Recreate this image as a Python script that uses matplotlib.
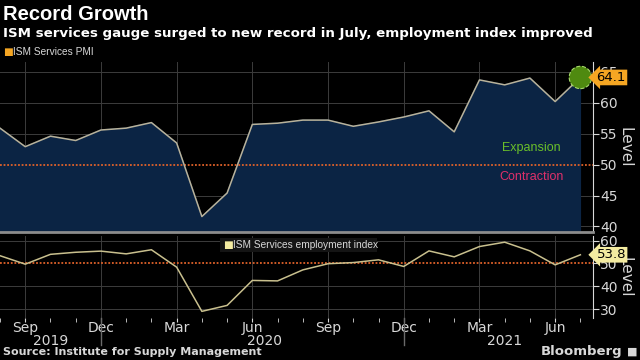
import numpy as np
import matplotlib
matplotlib.use("Agg")
import matplotlib.pyplot as plt
from matplotlib.patches import Rectangle

# Monthly, Aug 2019 .. Jul 2021
months = ["Aug", "Sep", "Oct", "Nov", "Dec", "Jan", "Feb", "Mar", "Apr", "May", "Jun", "Jul",
          "Aug", "Sep", "Oct", "Nov", "Dec", "Jan", "Feb", "Mar", "Apr", "May", "Jun", "Jul"]
years = [2019] * 5 + [2020] * 12 + [2021] * 7
pmi = [55.9, 52.9, 54.6, 53.9, 55.6, 55.9, 56.8, 53.5, 41.6, 45.4, 56.5, 56.7,
       57.2, 57.2, 56.2, 56.9, 57.7, 58.7, 55.3, 63.7, 62.9, 64.0, 60.2, 64.1]
employment = [53.4, 49.7, 54.0, 54.9, 55.4, 54.2, 56.0, 48.4, 29.1, 31.7, 42.6, 42.4,
              47.2, 49.9, 50.4, 51.6, 48.7, 55.5, 52.9, 57.4, 59.3, 55.5, 49.4, 53.8]
pmi_ticks = [40, 45, 50, 55, 60, 65]
emp_ticks = [30, 40, 50, 60]
major_months = ["Sep", "Dec", "Mar", "Jun"]

BG = "black"
GRID = "#3c3c3c"
TXT = "#d8d8d8"
NAVY = "#0b2444"
ORANGE = "#e0622a"
PMI_C = "#f5a623"
EMP_C = "#f3eba0"
NARROW = ["Liberation Sans", "DejaVu Sans"]

x = np.arange(len(pmi))
W, H = 640, 360

fig = plt.figure(figsize=(6.4, 3.6), dpi=100, facecolor=BG)


def box(l, t, r, b):
    return [l / W, 1 - b / H, (r - l) / W, (b - t) / H]


ax1 = fig.add_axes(box(0, 62, 593, 232))
ax2 = fig.add_axes(box(0, 236, 593, 318))

major = [i for i, m in enumerate(months) if m in major_months]

for ax in (ax1, ax2):
    ax.set_facecolor(BG)
    ax.set_xlim(0, len(x) - 0.5)
    ax.yaxis.tick_right()
    for s in ("top", "left"):
        ax.spines[s].set_visible(False)
    ax.spines["right"].set_color(TXT)
    ax.spines["right"].set_linewidth(0.8)
    ax.tick_params(axis="y", colors=TXT, labelsize=10, length=4, width=0.8, pad=1)
    ax.set_xticks(major)
    ax.set_xticks(x, minor=True)
    for xi in major:
        ax.axvline(xi, color=GRID, lw=0.7, zorder=0)
    ax.axhline(50, color=ORANGE, lw=1.3, ls=(0, (1, 1)), zorder=3)
    ax.yaxis.set_label_position("right")
    ax.set_ylabel("Level", color=TXT, fontsize=11, rotation=-90, labelpad=11)

# top panel
ax1.set_ylim(39.1, 66.6)
ax1.set_yticks(pmi_ticks)
for v in pmi_ticks:
    if v != 50:
        ax1.axhline(v, color=GRID, lw=0.7, zorder=0)
ax1.fill_between(x, pmi, 0, color=NAVY, zorder=1)
ax1.plot(x, pmi, color="#b9b29a", lw=1.1, zorder=4)
ax1.scatter([x[-1]], [pmi[-1]], s=260, color="#4f8a10", edgecolor="#a6d96a",
            linestyle="--", lw=0.8, zorder=5)
ax1.tick_params(axis="x", length=0, labelbottom=False, which="both")
ax1.spines["bottom"].set_color("#8c8c8c")
ax1.spines["bottom"].set_linewidth(2)
ax1.text(21.07, 52.7, "Expansion", color="#6abf2a", fontsize=9, family=NARROW,
         ha="center", va="center")
ax1.text(21.07, 48.0, "Contraction", color="#e0306a", fontsize=9, family=NARROW,
         ha="center", va="center")
ax1.annotate(f"{pmi[-1]:.1f}", xy=(1.006, pmi[-1]), xycoords=("axes fraction", "data"),
             ha="left", va="center", fontsize=9.5, color="black",
             bbox=dict(boxstyle="larrow,pad=0.1", fc=PMI_C, ec="none"), zorder=6)

# bottom panel
ax2.set_ylim(26.2, 62)
ax2.set_yticks(emp_ticks)
for v in emp_ticks:
    if v != 50:
        ax2.axhline(v, color=GRID, lw=0.7, zorder=0)
ax2.plot(x, employment, color="#c9c08e", lw=1.1, zorder=4)
ax2.spines["bottom"].set_visible(False)
ax2.set_xticklabels([months[i] for i in major])
ax2.tick_params(axis="x", colors=TXT, labelsize=10, length=3, pad=-1, which="major")
ax2.tick_params(axis="x", color=TXT, length=3, which="minor")
ax2.annotate(f"{employment[-1]:.1f}", xy=(1.006, employment[-1]), xycoords=("axes fraction", "data"),
             ha="left", va="center", fontsize=9.5, color="black",
             bbox=dict(boxstyle="larrow,pad=0.1", fc=EMP_C, ec="none"), zorder=6)

# year labels and separators
for yr in sorted(set(years)):
    idx = [i for i, y in enumerate(years) if y == yr]
    mid = (idx[0] + idx[-1]) / 2
    if yr == 2019:
        mid = 2
    ax2.text(mid, -0.285, str(yr), transform=ax2.get_xaxis_transform(),
             color=TXT, fontsize=10, ha="center", va="center")
for i in range(1, len(years)):
    if years[i] != years[i - 1]:
        ax2.plot([i - 1, i - 1], [0, -0.33], transform=ax2.get_xaxis_transform(),
                 color="#6a6a6a", lw=1, clip_on=False)

# legends
fig.text(3 / W, 1 - 52 / H, "■", color=PMI_C, fontsize=7.5, family="DejaVu Sans", va="center")
fig.text(13 / W, 1 - 52 / H, "ISM Services PMI", color=TXT, fontsize=7.3, family=NARROW,
         va="center")
ax2.add_patch(Rectangle((0.371, 0.80), 0.265, 0.18, transform=ax2.transAxes,
                        fc="#141414", ec="none", zorder=5))
ax2.text(0.376, 0.89, "■", transform=ax2.transAxes, color=EMP_C, fontsize=7.5,
         family="DejaVu Sans", va="center", ha="left", zorder=6)
ax2.text(0.393, 0.89, "ISM Services employment index", transform=ax2.transAxes,
         color=TXT, fontsize=7.3, family=NARROW, va="center", ha="left", zorder=6)

# titles / footer
fig.text(3 / W, 1 - 14 / H, "Record Growth", color="white", fontsize=14.5,
         fontweight="bold", family=NARROW, va="center")
fig.text(3 / W, 1 - 33 / H, "ISM services gauge surged to new record in July, employment index improved",
         color="white", fontsize=9.6, fontweight="bold", va="center")
fig.text(3 / W, 1 - 352 / H, "Source: Institute for Supply Management", color=TXT,
         fontsize=8, fontweight="bold", va="center")
fig.text(622 / W, 1 - 352 / H, "Bloomberg", color=TXT, fontsize=9.5, fontweight="bold",
         va="center", ha="right")
fig.text(637 / W, 1 - 352 / H, "■", color=TXT, fontsize=8, va="center", ha="right")

fig.savefig("out.png", dpi=100, facecolor=BG)
